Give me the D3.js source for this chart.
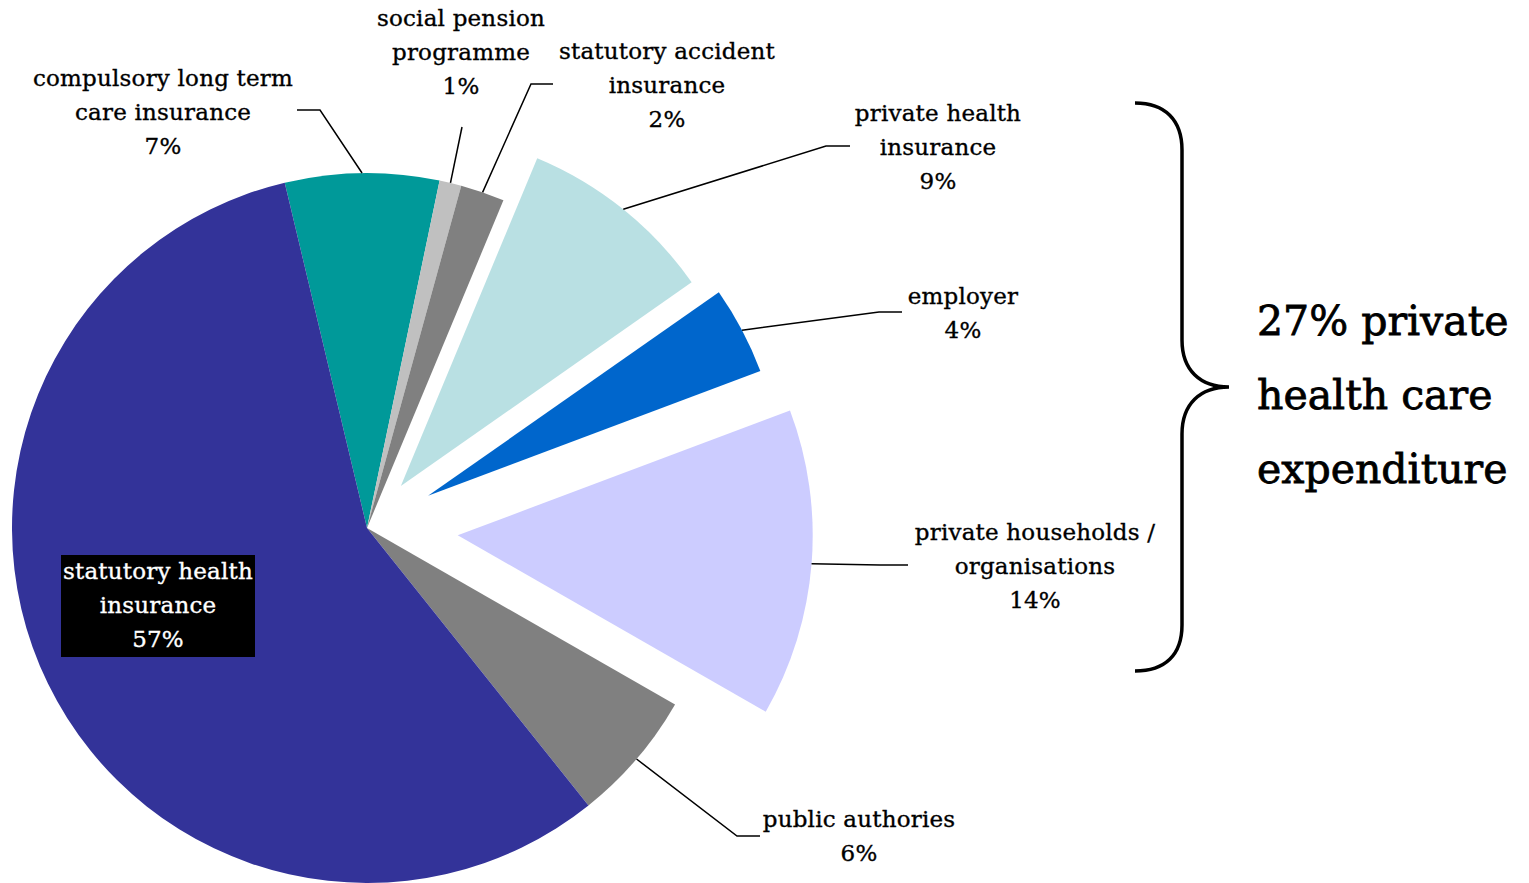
<!DOCTYPE html>
<html>
<head>
<meta charset="utf-8">
<script src="https://cdn.jsdelivr.net/npm/d3@7"></script>
<style>
  html, body { margin: 0; padding: 0; background: #ffffff; }
  svg { display: block; }
  text { font-family: "DejaVu Serif", serif; }
</style>
</head>
<body>
<svg id="chart" width="1529" height="883"></svg>
<script>
// Funding sources of health care expenditure (share in %)
const categories = [
  "compulsory long term care insurance",
  "social pension programme",
  "statutory accident insurance",
  "private health insurance",
  "employer",
  "private households / organisations",
  "public authories",
  "statutory health insurance"
];
const shares = [7, 1, 2, 9, 4, 14, 6, 57];
const labelLines = [
  ["compulsory long term", "care insurance"],
  ["social pension", "programme"],
  ["statutory accident", "insurance"],
  ["private health", "insurance"],
  ["employer"],
  ["private households /", "organisations"],
  ["public authories"],
  ["statutory health", "insurance"]
];
const privateShareText = ["27% private", "health care", "expenditure"];

// Styling
const palette = ["#009999", "#C0C0C0", "#808080", "#B9E0E3", "#0066CC", "#CCCCFF", "#808080", "#333399"];
const explode = { "private health insurance": 54, "employer": 69, "private households / organisations": 91 };

// Label placement: anchor (centre x, first baseline) and leader-line waypoints
const labelLayout = {
  "compulsory long term care insurance": { x: 163, y: 86, leader: [[320, 110], [297, 110]] },
  "social pension programme":            { x: 461, y: 26, leader: [[462, 127]] },
  "statutory accident insurance":        { x: 667, y: 59, leader: [[531, 84], [553, 84]] },
  "private health insurance":            { x: 938, y: 121, leader: [[826, 146], [850, 146]] },
  "employer":                            { x: 963, y: 304, leader: [[879, 312], [902, 312]] },
  "private households / organisations":  { x: 1035, y: 540, leader: [[880, 565], [908, 565]] },
  "public authories":                    { x: 859, y: 827, leader: [[737, 836], [760, 836]] },
  "statutory health insurance":          { x: 158, y: 579, box: [61, 555, 194, 102] }
};

const svg = d3.select("#chart");
const cx = 367, cy = 528, radius = 355;
const lineGap = 34;
const deg = Math.PI / 180;
const firstAngle = -13.4;

const pie = d3.pie().sort(null).value(d => d)
  .startAngle(firstAngle * deg).endAngle((firstAngle + 360) * deg);
const arcs = pie(shares).map((a, i) => Object.assign(a, { name: categories[i], i }));

const arc = d3.arc().innerRadius(0).outerRadius(radius);
const rim = d3.arc().innerRadius(radius).outerRadius(radius);

const offsetOf = a => {
  const mid = (a.startAngle + a.endAngle) / 2;
  const d = explode[a.name] || 0;
  return [d * Math.sin(mid), -d * Math.cos(mid)];
};

const g = svg.append("g").attr("transform", `translate(${cx},${cy})`);

g.selectAll("path.slice")
  .data(arcs)
  .join("path")
  .attr("class", "slice")
  .attr("d", arc)
  .attr("fill", d => palette[d.i])
  .attr("transform", d => {
    const [dx, dy] = offsetOf(d);
    return `translate(${dx},${dy})`;
  });

// Leader lines from the slice rim to each outside label
const line = d3.line();
arcs.forEach(a => {
  const lay = labelLayout[a.name];
  if (!lay.leader) return;
  const [dx, dy] = offsetOf(a);
  const [px, py] = rim.centroid(a);
  const pts = [[cx + px + dx, cy + py + dy]].concat(lay.leader);
  svg.append("path")
    .attr("d", line(pts))
    .attr("fill", "none")
    .attr("stroke", "#000")
    .attr("stroke-width", 1.5);
});

// Data labels
arcs.forEach(a => {
  const lay = labelLayout[a.name];
  const lines = labelLines[a.i].concat([d3.format(".0f")(a.value) + "%"]);
  let fill = "#000";
  if (lay.box) {
    svg.append("rect")
      .attr("x", lay.box[0]).attr("y", lay.box[1])
      .attr("width", lay.box[2]).attr("height", lay.box[3])
      .attr("fill", "#000");
    fill = "#fff";
  }
  const t = svg.append("text")
    .attr("text-anchor", "middle")
    .attr("font-size", 23)
    .attr("letter-spacing", "0.2px")
    .attr("fill", fill)
    .attr("stroke", fill)
    .attr("stroke-width", 0.35);
  lines.forEach((s, k) => {
    t.append("tspan").attr("x", lay.x).attr("y", lay.y + k * lineGap).text(s);
  });
});

// Curly brace grouping the private sources
svg.append("path")
  .attr("d", "M1135,103 C1165,103 1182,120 1182,150 L1182,340 C1182,370 1200,387 1229,387 " +
             "C1200,387 1182,404 1182,434 L1182,625 C1182,655 1165,671 1135,671")
  .attr("fill", "none")
  .attr("stroke", "#000")
  .attr("stroke-width", 3.5);

const big = svg.append("text")
  .attr("font-size", 41)
  .attr("fill", "#000")
  .attr("stroke", "#000")
  .attr("stroke-width", 0.8);
privateShareText.forEach((s, k) => {
  big.append("tspan").attr("x", 1257).attr("y", 335 + k * 74).text(s);
});
</script>
</body>
</html>
